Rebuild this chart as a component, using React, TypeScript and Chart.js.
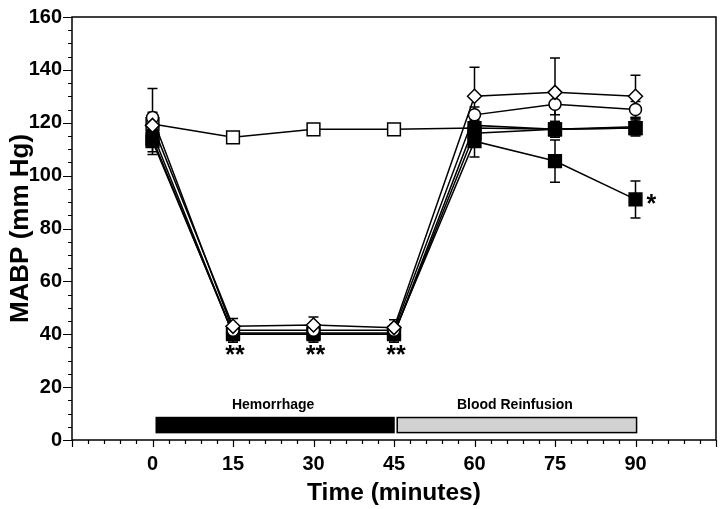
import React, { useEffect, useRef } from 'react';
import { Chart, registerables } from 'chart.js';
Chart.register(...registerables);

const times = [0, 15, 30, 45, 60, 75, 90];

const openDiamond = [119, 43, 43.5, 42.5, 130, 131.5, 130];
const openDiamondErr = [5, 3, 3, 3, 11, 13, 8];
const openCircle = [122, 41.5, 41.5, 41.5, 123, 127, 125];
const openCircleErr = [11, 2, 2, 2, 3, 4, 3];
const filledSquareB = [113, 40.5, 40.5, 40.5, 113, 105.5, 91];
const filledSquareBErr = [5, 3, 3, 3, 6, 8, 7];
const filledSquareA = [114, 40, 40, 40, 116, 117.5, 118];
const filledSquareAErr = [5, 3, 3, 3, 5, 3, 3];
const filledCircle = [116, 40, 40, 40, 119, 117.5, 118.5];
const filledCircleErr = [5, 2, 2, 2, 3, 3, 3];
const openSquare = [119.5, 114.5, 117.5, 117.5, 118, 117.5, 118];
const openSquareErr = [3, 2, 2, 2, 2, 2, 2];

const xTickLabels = [0, 15, 30, 45, 60, 75, 90];
const xAxisMin = -15;
const xAxisMax = 105;
const yTickLabels = [0, 20, 40, 60, 80, 100, 120, 140, 160];

const phaseNames = ['Hemorrhage', 'Blood Reinfusion'];
const phaseStart = [0.7, 45.6];
const phaseEnd = [45, 90.2];
const phaseFill = ['#000000', '#d2d2d2'];

const sigTimes = [15, 30, 45];
const sigMarks = ['**', '**', '**'];

const FONT = '"Liberation Sans", Arial, sans-serif';

type S = { data: number[]; err: number[]; style: string; fill: string; radius: number };
const seriesList: S[] = [
  { data: openDiamond, err: openDiamondErr, style: 'rectRot', fill: '#ffffff', radius: 7 },
  { data: openCircle, err: openCircleErr, style: 'circle', fill: '#ffffff', radius: 6 },
  { data: filledSquareB, err: filledSquareBErr, style: 'rect', fill: '#000000', radius: 9 },
  { data: filledSquareA, err: filledSquareAErr, style: 'rect', fill: '#000000', radius: 9 },
  { data: filledCircle, err: filledCircleErr, style: 'circle', fill: '#000000', radius: 6 },
  { data: openSquare, err: openSquareErr, style: 'rect', fill: '#ffffff', radius: 9 },
];

const overlay = {
  id: 'overlay',
  beforeDatasetsDraw(chart: any) {
    const ctx = chart.ctx;
    const xs = chart.scales.x;
    const ys = chart.scales.y;
    ctx.save();
    ctx.strokeStyle = '#000';
    ctx.lineWidth = 1.5;
    seriesList.forEach((s) => {
      s.data.forEach((v, i) => {
        const e = s.err[i];
        const px = xs.getPixelForValue(times[i]);
        const top = ys.getPixelForValue(v + e);
        const bot = ys.getPixelForValue(v - e);
        ctx.beginPath();
        ctx.moveTo(px, top);
        ctx.lineTo(px, bot);
        ctx.moveTo(px - 5, top);
        ctx.lineTo(px + 5, top);
        ctx.moveTo(px - 5, bot);
        ctx.lineTo(px + 5, bot);
        ctx.stroke();
      });
    });
    ctx.restore();
  },
  afterDraw(chart: any) {
    const ctx = chart.ctx;
    const xs = chart.scales.x;
    const ys = chart.scales.y;
    const { left, right, top, bottom } = chart.chartArea;
    ctx.save();
    ctx.strokeStyle = '#000';
    ctx.lineWidth = 1.5;
    ctx.strokeRect(left, top, right - left, bottom - top);
    ctx.lineWidth = 1.2;
    ctx.beginPath();
    for (let t = xAxisMin; t <= xAxisMax; t += 3) {
      const px = Math.round(xs.getPixelForValue(t)) + 0.5;
      const len = t % 15 === 0 ? 7 : 4;
      ctx.moveTo(px, bottom);
      ctx.lineTo(px, bottom + len);
    }
    for (let v = 0; v <= 160; v += 5) {
      const py = Math.round(ys.getPixelForValue(v)) + 0.5;
      const len = v % 20 === 0 ? 9 : 4;
      ctx.moveTo(left, py);
      ctx.lineTo(left - len, py);
    }
    ctx.stroke();
    phaseNames.forEach((name, i) => {
      const x0 = xs.getPixelForValue(phaseStart[i]);
      const x1 = xs.getPixelForValue(phaseEnd[i]);
      const y0 = ys.getPixelForValue(8.5);
      const y1 = ys.getPixelForValue(2.8);
      ctx.fillStyle = phaseFill[i];
      ctx.fillRect(x0, y0, x1 - x0, y1 - y0);
      ctx.lineWidth = 1.5;
      ctx.strokeStyle = '#000';
      ctx.strokeRect(x0, y0, x1 - x0, y1 - y0);
      ctx.fillStyle = '#000';
      ctx.font = 'bold 14px ' + FONT;
      ctx.textAlign = 'center';
      ctx.textBaseline = 'middle';
      ctx.fillText(name, (x0 + x1) / 2 - 2, y0 - 12);
    });
    ctx.font = 'bold 25px ' + FONT;
    ctx.textAlign = 'center';
    ctx.textBaseline = 'middle';
    sigTimes.forEach((t, k) => {
      const i = times.indexOf(t);
      const minV = Math.min(...seriesList.map((s) => s.data[i] - s.err[i]));
      const px = xs.getPixelForValue(t);
      const py = ys.getPixelForValue(minV);
      ctx.fillText(sigMarks[k], px + 2, py + 14);
    });
    const last = times.length - 1;
    ctx.textAlign = 'left';
    ctx.fillText('*', xs.getPixelForValue(times[last]) + 11, ys.getPixelForValue(filledSquareB[last]) + 6);
    ctx.restore();
  },
};

export default function App() {
  const ref = useRef<HTMLCanvasElement>(null);
  useEffect(() => {
    document.body.style.margin = '0';
    const chart = new Chart(ref.current!, {
      type: 'scatter',
      data: {
        datasets: seriesList.map((s) => ({
          data: times.map((t, i) => ({ x: t, y: s.data[i] })),
          showLine: true,
          borderColor: '#000',
          borderWidth: 1.5,
          pointStyle: s.style as any,
          pointRadius: s.radius,
          pointBackgroundColor: s.fill,
          pointBorderColor: '#000',
          pointBorderWidth: 1.5,
        })),
      },
      options: {
        animation: false,
        responsive: false,
        layout: { autoPadding: false, padding: { top: 17, right: 4, left: 0, bottom: 0 } },
        plugins: { legend: { display: false }, tooltip: { enabled: false } },
        scales: {
          x: {
            type: 'linear',
            min: xAxisMin,
            max: xAxisMax,
            afterBuildTicks: (scale: any) => {
              scale.ticks = xTickLabels.map((v) => ({ value: v }));
            },
            afterFit: (scale: any) => {
              scale.height = 69;
              scale.paddingLeft = 0;
              scale.paddingRight = 0;
            },
            grid: { display: false, drawTicks: false },
            border: { display: false },
            ticks: {
              autoSkip: false,
              maxRotation: 0,
              padding: 12,
              color: '#000',
              font: { family: FONT, size: 20, weight: 'bold' },
            },
            title: {
              display: true,
              text: 'Time (minutes)',
              color: '#000',
              font: { family: FONT, size: 24.5, weight: 'bold' },
              padding: { top: 1, bottom: 1 },
            },
          },
          y: {
            min: 0,
            max: 160,
            afterBuildTicks: (scale: any) => {
              scale.ticks = yTickLabels.map((v) => ({ value: v }));
            },
            afterFit: (scale: any) => {
              scale.width = 72;
              scale.paddingTop = 0;
              scale.paddingBottom = 0;
            },
            grid: { display: false, drawTicks: false },
            border: { display: false },
            ticks: {
              padding: 10,
              color: '#000',
              font: { family: FONT, size: 20, weight: 'bold' },
            },
            title: {
              display: true,
              text: 'MABP (mm Hg)',
              color: '#000',
              font: { family: FONT, size: 26, weight: 'bold' },
              padding: { top: 5, bottom: 5 },
            },
          },
        },
      },
      plugins: [overlay],
    } as any);
    return () => chart.destroy();
  }, []);
  return <canvas ref={ref} width={720} height={509} style={{ display: 'block' }} />;
}
